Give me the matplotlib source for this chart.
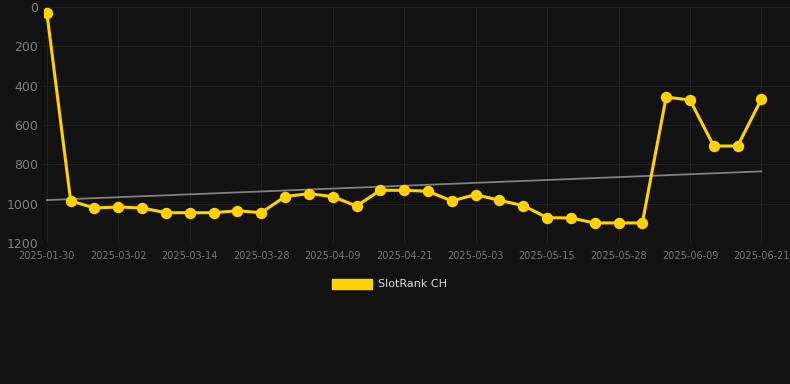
import numpy as np
import matplotlib
matplotlib.use("Agg")
import matplotlib.pyplot as plt
from matplotlib.patches import Patch

dates = [
    "2025-01-30", "2025-02-07", "2025-02-24", "2025-03-02", "2025-03-06", "2025-03-10",
    "2025-03-14", "2025-03-18", "2025-03-23", "2025-03-28", "2025-04-01", "2025-04-05",
    "2025-04-09", "2025-04-13", "2025-04-17", "2025-04-21", "2025-04-25", "2025-04-29",
    "2025-05-03", "2025-05-07", "2025-05-11", "2025-05-15", "2025-05-19", "2025-05-24",
    "2025-05-28", "2025-06-01", "2025-06-05", "2025-06-09", "2025-06-13", "2025-06-17",
    "2025-06-21",
]
ranks = [
    30, 986, 1022, 1017, 1022, 1046, 1046, 1046, 1036, 1046,
    964, 949, 964, 1012, 932, 932, 937, 986, 954, 983,
    1010, 1071, 1073, 1098, 1098, 1098, 458, 473, 707, 707,
    468,
]
series_name = "SlotRank CH"

bg = "#121212"
gold = "#FFD200"

x = np.arange(len(ranks))
slope, intercept = np.polyfit(x, ranks, 1)
trend = slope * x + intercept

fig = plt.figure(figsize=(7.9, 3.84), dpi=100, facecolor=bg)
ax = fig.add_axes([44 / 790, 1 - 243 / 384, 1 - 44 / 790, 236 / 384])
ax.set_facecolor(bg)

ax.plot(x, trend, color="#808080", lw=1.3, zorder=2)
ax.plot(x, ranks, color=gold, lw=2.2, marker="o", ms=7.2, zorder=3)

ax.set_ylim(1200, 0)
ax.set_yticks([0, 200, 400, 600, 800, 1000, 1200])
ax.set_xlim(-0.12, 31.2)
ax.set_xticks(x[::3])
ax.set_xticklabels(dates[::3])

ax.grid(True, color="#202020", lw=0.8)
for s in ax.spines.values():
    s.set_visible(False)
ax.tick_params(axis="both", length=0)
ax.tick_params(axis="y", colors="#808080", labelsize=9, pad=4)
ax.tick_params(axis="x", colors="#777777", labelsize=7, pad=6)

fig.legend(handles=[Patch(facecolor=gold, edgecolor=gold)], labels=[series_name],
           loc="center", bbox_to_anchor=(0.493, 1 - 284 / 384), frameon=False,
           fontsize=8, labelcolor="#dddddd", handlelength=3.6, handleheight=1.0,
           handletextpad=0.5)

fig.savefig("out.png", dpi=100, facecolor=bg)
